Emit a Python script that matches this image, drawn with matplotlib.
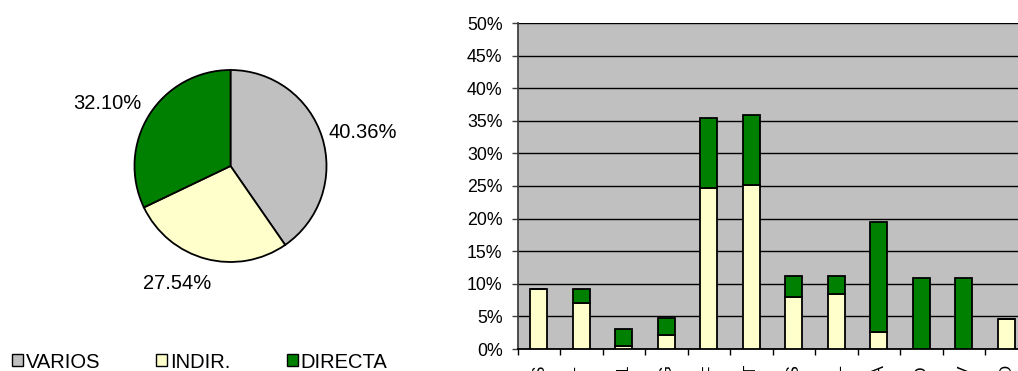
import matplotlib
matplotlib.use("Agg")
import matplotlib.pyplot as plt
import numpy as np
from matplotlib.patches import Patch
from matplotlib.ticker import FuncFormatter, MultipleLocator

plt.rcParams["font.family"] = ["Liberation Sans", "DejaVu Sans"]

# pie data
pie_labels = ["VARIOS", "INDIR.", "DIRECTA"]
pie_values = [40.36, 27.54, 32.10]
pie_colors = ["#C0C0C0", "#FFFFCC", "#008000"]

# stacked bar data (percent)
bar_categories = ["US$", "NET", "TM1", "SIG", "REF", "TOT", "SUS", "SAL", "CIA", "BCO", "PRIV", "OTRO"]
indir_values = [9.25, 7.05, 0.5, 2.15, 24.75, 25.15, 7.95, 8.45, 2.55, 0.0, 0.0, 4.6]
directa_values = [0.0, 2.2, 2.55, 2.65, 10.75, 10.75, 3.25, 2.75, 16.95, 10.9, 10.9, 0.0]

W, H = 1018, 371
fig = plt.figure(figsize=(W / 100, H / 100), dpi=100)

# ---- pie ----
cx, cy, r = 230.5, 166, 96
ax_pie = fig.add_axes([(cx - r) / W, (H - cy - r) / H, 2 * r / W, 2 * r / H])
wedges, _ = ax_pie.pie(
    pie_values, colors=pie_colors, startangle=90, counterclock=False,
    wedgeprops=dict(edgecolor="black", linewidth=1.3),
)
ax_pie.set_xlim(-1, 1)
ax_pie.set_ylim(-1, 1)

# label placement (in pie radii) and alignment, one per slice
label_pos = [(1.016, 0.344, "left"), (-0.557, -1.219, "center"), (-0.925, 0.656, "right")]
for val, (lx, ly, ha) in zip(pie_values, label_pos):
    ax_pie.text(lx, ly, f"{val:.2f}%", ha=ha, va="center", fontsize=14.5)

handles = [Patch(facecolor=c, edgecolor="black", linewidth=1.0) for c in pie_colors]
fig.legend(handles, pie_labels, ncol=3, loc="center left",
           bbox_to_anchor=(12 / W, (H - 362) / H), frameon=False, fontsize=14.5,
           borderpad=0, borderaxespad=0,
           handlelength=0.55, handleheight=0.55, handletextpad=0.12,
           columnspacing=2.8)

# ---- stacked bars ----
ax = fig.add_axes([517.5 / W, (H - 349) / H, 510 / W, 326 / H])
ax.set_facecolor("#C0C0C0")
x = np.arange(len(bar_categories))
ax.bar(x, indir_values, width=0.4, color="#FFFFCC", edgecolor="black", linewidth=1.3, zorder=3)
ax.bar(x, directa_values, width=0.4, bottom=indir_values, color="#008000",
       edgecolor="black", linewidth=1.3, zorder=3)

ax.set_xlim(-0.5, len(bar_categories) - 0.5)
ax.set_ylim(0, 50)
ax.yaxis.set_major_locator(MultipleLocator(5))
ax.yaxis.set_major_formatter(FuncFormatter(lambda v, p: f"{v:.0f}%"))
ax.grid(axis="y", color="black", linewidth=1.0, zorder=1)
ax.set_axisbelow(True)

ax.set_xticks(x)
ax.set_xticklabels(bar_categories, rotation=90, fontsize=12.5)
ax.set_xticks(np.arange(len(bar_categories) + 1) - 0.5, minor=True)
ax.tick_params(axis="x", which="major", length=0, pad=10.8)
ax.tick_params(axis="x", which="minor", length=4, width=1.0, color="black")
ax.tick_params(axis="y", length=4.3, width=1.0, color="#404040", labelsize=12.8, pad=6.5)

for side in ["top", "right"]:
    ax.spines[side].set_visible(False)
ax.spines["left"].set_color("#404040")
ax.spines["left"].set_linewidth(1.3)
ax.spines["bottom"].set_color("black")
ax.spines["bottom"].set_linewidth(1.3)

fig.savefig("out.png", dpi=100)
